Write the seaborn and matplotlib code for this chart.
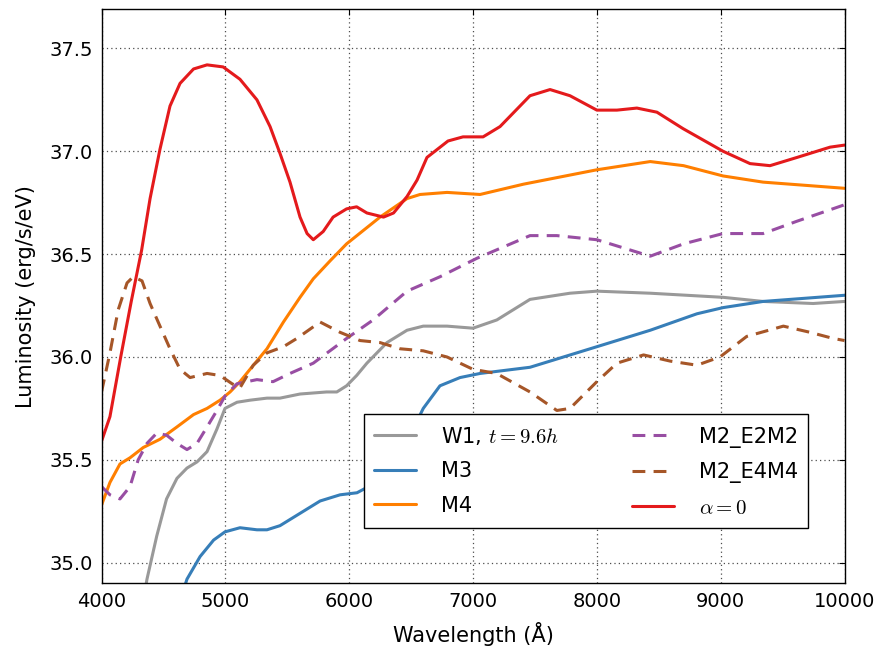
import matplotlib

matplotlib.use("Agg")
import matplotlib.pyplot as plt
import seaborn as sns
import pandas as pd

# wavelength (Angstrom) / log luminosity
w1_x = [4300, 4367, 4446, 4525, 4609, 4690, 4771, 4852, 4932, 4997, 5094, 5199, 5336, 5441,
        5603, 5817, 5900, 5979, 6060, 6143, 6305, 6467, 6598, 6790, 7000, 7192, 7460, 7783,
        8000, 8431, 9019, 9342, 9746, 10000]
w1_y = [34.68, 34.92, 35.13, 35.31, 35.41, 35.46, 35.49, 35.54, 35.65, 35.75, 35.78, 35.79, 35.80, 35.80,
        35.82, 35.83, 35.83, 35.86, 35.91, 35.97, 36.07, 36.13, 36.15, 36.15, 36.14, 36.18, 36.28, 36.31,
        36.32, 36.31, 36.29, 36.27, 36.26, 36.27]

m3_x = [4600, 4690, 4796, 4905, 4997, 5118, 5255, 5336, 5441, 5603, 5765, 5926, 6063, 6250,
        6420, 6598, 6733, 6895, 7057, 7460, 8000, 8431, 8808, 9019, 9342, 10000]
m3_y = [34.75, 34.92, 35.03, 35.11, 35.15, 35.17, 35.16, 35.16, 35.18, 35.24, 35.30, 35.33, 35.34, 35.40,
        35.53, 35.75, 35.86, 35.90, 35.92, 35.95, 36.05, 36.13, 36.21, 36.24, 36.27, 36.30]

m4_x = [4000, 4068, 4149, 4230, 4337, 4472, 4609, 4743, 4852, 4957, 5038, 5118, 5199, 5336,
        5469, 5603, 5710, 5850, 5979, 6249, 6467, 6572, 6790, 7057, 7407, 8000, 8431, 8700,
        9019, 9342, 10000]
m4_y = [35.28, 35.39, 35.48, 35.51, 35.56, 35.60, 35.66, 35.72, 35.75, 35.79, 35.83, 35.88, 35.94, 36.04,
        36.17, 36.29, 36.38, 36.47, 36.55, 36.68, 36.77, 36.79, 36.80, 36.79, 36.84, 36.91, 36.95, 36.93,
        36.88, 36.85, 36.82]

e2m2_x = [4000, 4068, 4149, 4230, 4296, 4367, 4446, 4525, 4609, 4690, 4771, 4852, 4932, 4997,
          5094, 5255, 5385, 5522, 5710, 5979, 6193, 6467, 6733, 7032, 7460, 7677, 8000, 8431,
          8700, 9019, 9342, 9616, 10000]
e2m2_y = [35.37, 35.33, 35.31, 35.37, 35.50, 35.58, 35.63, 35.62, 35.58, 35.55, 35.58, 35.66, 35.74, 35.81,
          35.87, 35.89, 35.88, 35.92, 35.97, 36.09, 36.18, 36.32, 36.39, 36.48, 36.59, 36.59, 36.57, 36.49,
          36.55, 36.60, 36.60, 36.66, 36.74]

e4m4_x = [4000, 4068, 4135, 4206, 4256, 4327, 4392, 4472, 4553, 4634, 4715, 4852, 4957, 5054,
          5118, 5225, 5336, 5469, 5577, 5765, 5926, 6087, 6249, 6410, 6598, 6790, 7000, 7190,
          7460, 7677, 7783, 8000, 8162, 8377, 8592, 8808, 8994, 9210, 9506, 9721, 9909, 10000]
e4m4_y = [35.83, 36.02, 36.23, 36.36, 36.39, 36.37, 36.26, 36.15, 36.04, 35.94, 35.90, 35.92, 35.91, 35.87,
          35.85, 35.96, 36.02, 36.05, 36.09, 36.17, 36.12, 36.08, 36.07, 36.04, 36.03, 36.00, 35.94, 35.92,
          35.83, 35.74, 35.75, 35.88, 35.97, 36.01, 35.98, 35.96, 36.00, 36.10, 36.15, 36.12, 36.09, 36.08]

a0_x = [4000, 4068, 4155, 4240, 4324, 4392, 4472, 4553, 4634, 4743, 4852, 4982, 5118, 5255,
        5361, 5441, 5522, 5603, 5660, 5710, 5790, 5870, 5979, 6060, 6143, 6277, 6358, 6467,
        6548, 6628, 6798, 6919, 7081, 7218, 7460, 7622, 7783, 8000, 8162, 8323, 8485, 8696,
        9019, 9237, 9398, 9616, 9883, 10000]
a0_y = [35.59, 35.71, 36.00, 36.27, 36.52, 36.77, 37.01, 37.22, 37.33, 37.40, 37.42, 37.41, 37.35, 37.25,
        37.12, 36.99, 36.85, 36.68, 36.60, 36.57, 36.61, 36.68, 36.72, 36.73, 36.70, 36.68, 36.70, 36.78,
        36.86, 36.97, 37.05, 37.07, 37.07, 37.12, 37.27, 37.30, 37.27, 37.20, 37.20, 37.21, 37.19, 37.11,
        37.00, 36.94, 36.93, 36.97, 37.02, 37.03]

labels = ["W1, $t=9.6h$", "M3", "M4", "M2_E2M2", "M2_E4M4", r"$\alpha=0$"]
xs = [w1_x, m3_x, m4_x, e2m2_x, e4m4_x, a0_x]
ys = [w1_y, m3_y, m4_y, e2m2_y, e4m4_y, a0_y]
colors = ["#999999", "#377eb8", "#ff7f00", "#984ea3", "#a65628", "#e41a1c"]
dashed = [False, False, False, True, True, False]

sns.set_style("white")
plt.rcParams.update({
    "font.family": ["DejaVu Sans"],
    "mathtext.fontset": "cm",
    "text.color": "black",
    "axes.labelcolor": "black",
    "xtick.direction": "in",
    "ytick.direction": "in",
    "xtick.top": True,
    "ytick.right": True,
    "xtick.major.size": 4,
    "ytick.major.size": 4,
    "axes.edgecolor": "black",
    "axes.linewidth": 1.0,
})

fig = plt.figure(figsize=(8.79, 6.52), dpi=100)
ax = fig.add_axes([0.1155, 0.1054, 0.8453, 0.8803])

for x, y, lab, c, d in zip(xs, ys, labels, colors, dashed):
    df = pd.DataFrame({"wl": x, "lum": y})
    sns.lineplot(data=df, x="wl", y="lum", ax=ax, color=c, lw=2.2, label=lab,
                 sort=False, estimator=None)
    if d:
        ax.lines[-1].set_dashes((4.2, 2.7))

ax.set_xlim(4000, 10000)
ax.set_ylim(34.9, 37.69)
ax.set_xticks([4000, 5000, 6000, 7000, 8000, 9000, 10000])
ax.set_yticks([35.0, 35.5, 36.0, 36.5, 37.0, 37.5])
ax.grid(True, color="0.3", linestyle=(0, (1, 2.5)), linewidth=0.9)
ax.tick_params(labelsize=14, colors="black", pad=6)
for s in ax.spines.values():
    s.set_visible(True)
    s.set_color("black")

ax.set_xlabel("Wavelength (Å)", fontsize=15, labelpad=8)
ax.set_ylabel("Luminosity (erg/s/eV)", fontsize=15, labelpad=10)

leg = ax.legend(ncol=2, loc="lower right", bbox_to_anchor=(0.951, 0.096), fontsize=15,
                frameon=True, fancybox=False, edgecolor="black", framealpha=1,
                handlelength=2.0, handletextpad=1.2, columnspacing=3.5,
                borderpad=0.5, labelspacing=0.7, borderaxespad=0)
leg.get_frame().set_linewidth(1.0)

fig.savefig("out.png", dpi=100)
